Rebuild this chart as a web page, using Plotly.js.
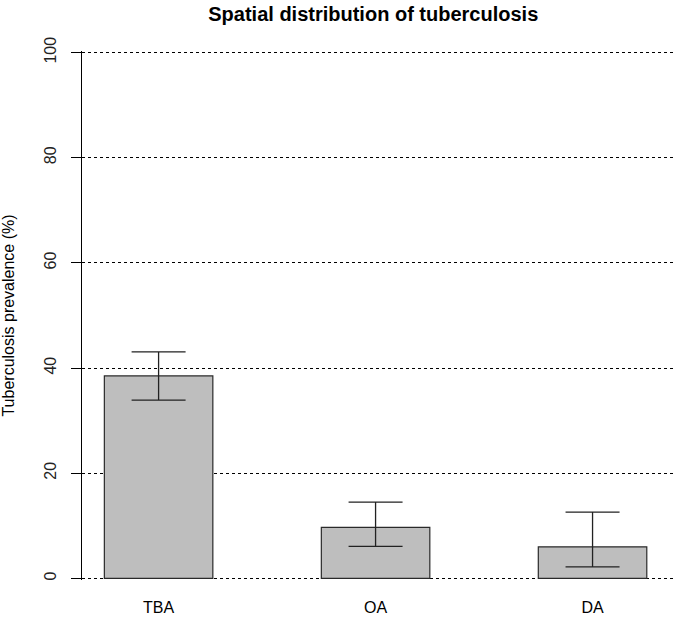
<!DOCTYPE html>
<html><head><meta charset="utf-8">
<script src="https://cdn.plot.ly/plotly-3.0.1.min.js"></script>
<style>html,body{margin:0;padding:0;background:#fff;}</style>
</head><body>
<div id="chart" style="width:675px;height:621px;"></div>
<script>
const categories = ["TBA", "OA", "DA"];
const prevalence = [38.5, 9.7, 6.0];
const errUpper = [43.1, 14.5, 12.6];
const errLower = [33.9, 6.1, 2.2];
const yTicks = [0, 20, 40, 60, 80, 100];

const plus = prevalence.map((v, i) => errUpper[i] - v);
const minus = prevalence.map((v, i) => v - errLower[i]);

const FONT = "Liberation Sans, Arial, sans-serif";

const trace = {
  type: "bar",
  x: categories,
  y: prevalence,
  width: 0.5,
  marker: {color: "#bebebe", line: {color: "#2a2a2a", width: 1.2}},
  error_y: {type: "data", symmetric: false, array: plus, arrayminus: minus,
            color: "#222", thickness: 1.3, width: 27},
  hoverinfo: "none"
};

const layout = {
  width: 675, height: 621,
  margin: {l: 82, r: 0, t: 51.4, b: 41.4},
  paper_bgcolor: "#fff", plot_bgcolor: "#fff",
  showlegend: false,
  title: {text: "<b>Spatial distribution of tuberculosis</b>",
          font: {family: FONT, size: 20, color: "#000"},
          xref: "container", x: 0.553, xanchor: "center", yref: "container", y: 0.977, yanchor: "middle"},
  xaxis: {
    type: "category", range: [-0.353, 2.38],
    showline: false, showgrid: false, zeroline: false, ticks: "",
    tickfont: {family: FONT, size: 16, color: "#000"},
    ticklabelstandoff: 16
  },
  yaxis: {
    range: [-0.3, 100.3], tickvals: yTicks, ticktext: yTicks.map(String),
    tickangle: -90,
    showline: true, linecolor: "#000", linewidth: 1,
    ticks: "outside", ticklen: 10, tickcolor: "#000", tickwidth: 1,
    showgrid: true, gridcolor: "#000", griddash: "dot", gridwidth: 1,
    zeroline: false,
    tickfont: {family: FONT, size: 16, color: "#222"},
    ticklabelstandoff: 9,
    title: {text: "Tuberculosis prevalence (%)", standoff: 22,
            font: {family: FONT, size: 16, color: "#000"}}
  }
};

Plotly.newPlot("chart", [trace], layout, {displayModeBar: false, staticPlot: true});
</script>
</body></html>
